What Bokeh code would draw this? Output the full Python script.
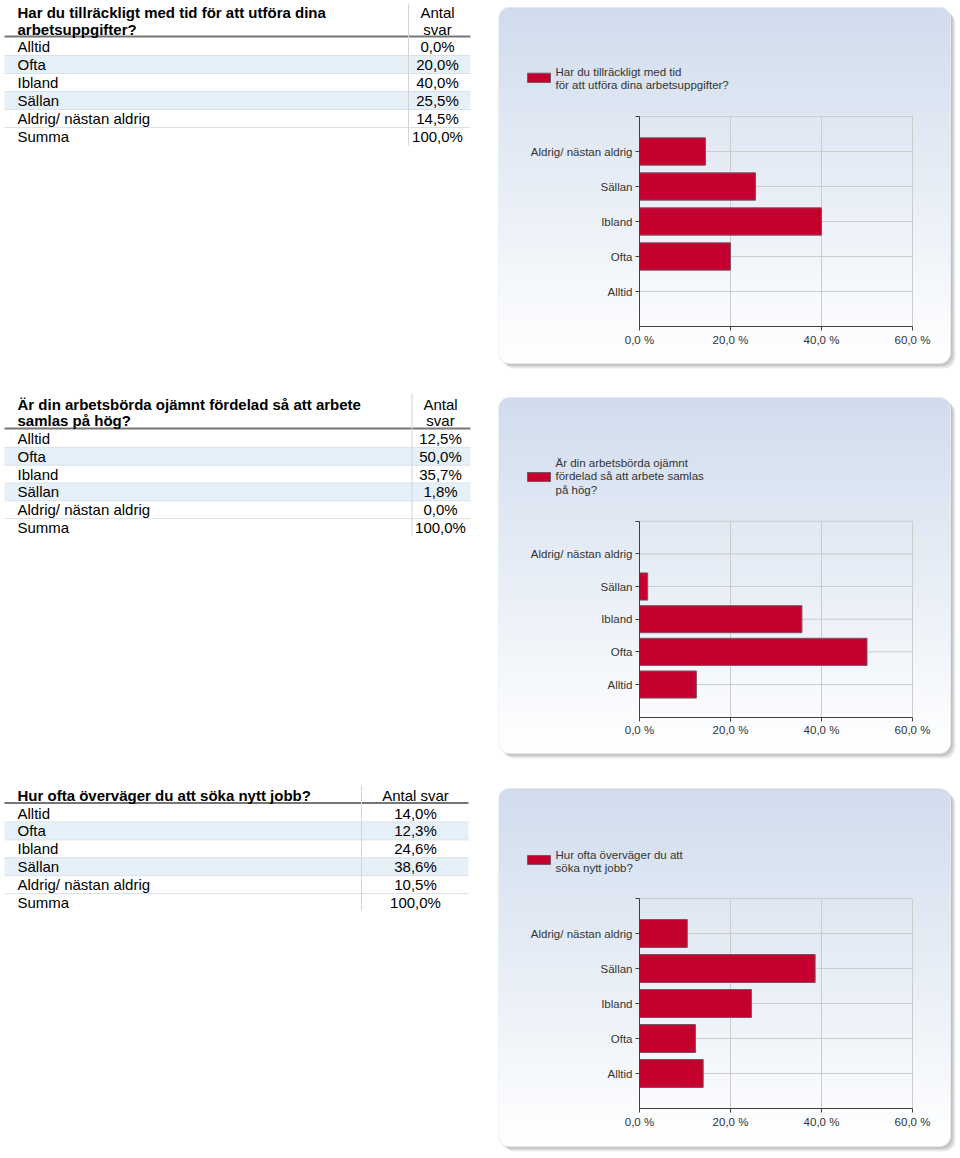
import math
from bokeh.plotting import figure
from bokeh.layouts import row, column
from bokeh.models import Range1d, FixedTicker
from bokeh.core.properties import value
from bokeh.embed import file_html
from bokeh.resources import INLINE

# ---------------- data ----------------
categories = ["Alltid", "Ofta", "Ibland", "Sällan", "Aldrig/ nästan aldrig"]
sum_label = "Summa"

q1_title = ["Har du tillräckligt med tid för att utföra dina", "arbetsuppgifter?"]
q1_legend = ["Har du tillräckligt med tid", "för att utföra dina arbetsuppgifter?"]
q1_header = ["Antal", "svar"]
q1_values = [0.0, 20.0, 40.0, 25.5, 14.5]

q2_title = ["Är din arbetsbörda ojämnt fördelad så att arbete", "samlas på hög?"]
q2_legend = ["Är din arbetsbörda ojämnt", "fördelad så att arbete samlas", "på hög?"]
q2_header = ["Antal", "svar"]
q2_values = [12.5, 50.0, 35.7, 1.8, 0.0]

q3_title = ["Hur ofta överväger du att söka nytt jobb?"]
q3_legend = ["Hur ofta överväger du att", "söka nytt jobb?"]
q3_header = ["Antal svar"]
q3_values = [14.0, 12.3, 24.6, 38.6, 10.5]

x_ticks = [0, 20, 40, 60]
x_tick_labels = ["0,0 %", "20,0 %", "40,0 %", "60,0 %"]

# ---------------- style / layout ----------------
FONT = value("Liberation Sans")
BAR = "#c4002e"
BAR_LINE = "#7a5466"
LEFT_W = 498
RIGHT_W = 462
PAGE_X0 = 0
BODY_SIZE = "15px"


def fmt_pct(v):
    return f"{v:.1f}%".replace(".", ",")


def hexc(rgb):
    return "#%02x%02x%02x" % tuple(int(round(c)) for c in rgb)


def rounded_poly(x0, y0, x1, y1, r, n=10):
    xs, ys = [], []
    corners = [(x0 + r, y0 + r, math.pi, 1.5 * math.pi),
               (x1 - r, y0 + r, 1.5 * math.pi, 2 * math.pi),
               (x1 - r, y1 - r, 0.0, 0.5 * math.pi),
               (x0 + r, y1 - r, 0.5 * math.pi, math.pi)]
    for cx, cy, a0, a1 in corners:
        for i in range(n + 1):
            a = a0 + (a1 - a0) * i / n
            xs.append(cx + r * math.cos(a))
            ys.append(cy + r * math.sin(a))
    return xs, ys


def gradient_rows(x0, y0, x1, y1, r, top_rgb, bot_rgb):
    L, R, T, B, C = [], [], [], [], []
    h = y1 - y0
    y = y0
    while y < y1:
        ym = y + 0.5
        d = min(ym - y0, y1 - ym)
        inset = r - math.sqrt(max(r * r - (r - d) ** 2, 0.0)) if d < r else 0.0
        t = (ym - y0) / h
        C.append(hexc([a + (b - a) * t for a, b in zip(top_rgb, bot_rgb)]))
        L.append(x0 + inset)
        R.append(x1 - inset)
        T.append(y)
        B.append(min(y + 1.6, y1))
        y += 1
    return L, R, T, B, C


def table_fig(title, header, values, T):
    top, h = T["row_top"], T["h"]
    p = figure(width=LEFT_W, height=h, x_range=Range1d(PAGE_X0, PAGE_X0 + LEFT_W),
               y_range=Range1d(top + h, top), output_backend="svg", toolbar_location=None,
               x_axis_type=None, y_axis_type=None, outline_line_color=None,
               min_border_left=0, min_border_right=0, min_border_top=0, min_border_bottom=0,
               background_fill_color="white", border_fill_color="white")
    p.grid.visible = False
    labels = categories + [sum_label]
    vals = [fmt_pct(v) for v in values] + [fmt_pct(sum(values))]
    pitch = T["pitch"]
    centers = [T["row0"] + i * pitch for i in range(len(labels))]
    # shaded rows
    sh = [c for i, c in enumerate(centers) if i % 2 == 1 and i < len(categories)]
    p.quad(left=T["left"], right=T["right"], top=[c - pitch / 2 for c in sh],
           bottom=[c + pitch / 2 for c in sh], fill_color="#e6f0f9", line_color=None)
    # row separators
    sep = [c + pitch / 2 for c in centers[:-1]]
    p.segment(x0=T["left"], x1=T["right"], y0=sep, y1=sep, line_color="#d9e1ea", line_width=1)
    # header underline
    p.segment(x0=[T["left"]], x1=[T["right"]], y0=[T["uline"]], y1=[T["uline"]],
              line_color="#767676", line_width=1.8)
    # vertical separator
    p.segment(x0=[T["vsep"]], x1=[T["vsep"]], y0=[T["vtop"]], y1=[T["vbot"]],
              line_color="#d4d4d4", line_width=1)
    # header texts
    p.text(x=[17] * len(title), y=T["head_y"][:len(title)], text=title, text_font=FONT,
           text_font_style="bold", text_font_size=BODY_SIZE, text_color="#000000",
           text_baseline="middle", text_align="left")
    p.text(x=[T["val_x"]] * len(header), y=T["head_y"][:len(header)], text=header,
           text_font=FONT, text_font_size=BODY_SIZE, text_color="#000000",
           text_baseline="middle", text_align="center")
    # body
    p.text(x=[17] * len(labels), y=centers, text=labels, text_font=FONT,
           text_font_size=BODY_SIZE, text_color="#000000", text_baseline="middle",
           text_align="left")
    p.text(x=[T["val_x"]] * len(vals), y=centers, text=vals, text_font=FONT,
           text_font_size=BODY_SIZE, text_color="#000000", text_baseline="middle",
           text_align="center")
    return p


def chart_fig(values, legend, C):
    top, h = C["row_top"], C["h"]
    bot = top + h
    x_left, x_right = PAGE_X0 + LEFT_W, PAGE_X0 + LEFT_W + RIGHT_W
    k = (C["x60"] - C["x0"]) / 60.0
    s = C["slot"]
    xr = Range1d((x_left - C["x0"]) / k, (x_right - C["x0"]) / k)
    yr = Range1d((C["y0"] - bot) / s, (C["y0"] - top) / s)
    p = figure(width=RIGHT_W, height=h, x_range=xr, y_range=yr, output_backend="svg",
               toolbar_location=None, outline_line_color=None,
               min_border_left=0, min_border_right=0, min_border_top=0, min_border_bottom=0,
               background_fill_color="white", border_fill_color="white")
    p.extra_x_ranges = {"px": Range1d(x_left, x_right)}
    p.extra_y_ranges = {"px": Range1d(bot, top)}
    p.grid.visible = False
    px = dict(x_range_name="px", y_range_name="px")

    # panel shadow + gradient
    x0, y0, x1, y1 = C["panel"]
    r = 11
    for off, col in [(5, "#ececec"), (3.5, "#d6d6d6"), (2, "#c2c2c2")]:
        xs, ys = rounded_poly(x0 + off, y0 + off, x1 + off, y1 + off, r)
        p.patch(xs, ys, fill_color=col, line_color=None, **px)
    gl, gr, gt, gb, gc = gradient_rows(x0, y0, x1, y1, r, (208, 220, 237), (255, 255, 255))
    p.quad(left=gl, right=gr, top=gt, bottom=gb, fill_color=gc, line_color=None, **px)
    xs, ys = rounded_poly(x0, y0, x1, y1, r)
    p.patch(xs, ys, fill_alpha=0, line_color="#e4e9ef", line_width=1, **px)

    # legend
    lt, lb = C["leg_rect"]
    p.quad(left=[527], right=[550], top=[lt], bottom=[lb], fill_color=BAR,
           line_color=BAR_LINE, line_width=1, **px)
    p.text(x=[555] * len(legend), y=C["leg_y"][:len(legend)], text=legend, text_font=FONT,
           text_font_size="11.5px", text_color="#333333", text_baseline="middle",
           text_align="left", **px)

    # grid
    ypos = list(range(1, len(categories) + 1))
    ytop = len(categories) + 1
    gy = ypos + [ytop]
    p.segment(x0=[x_ticks[0]] * len(gy), x1=[x_ticks[-1]] * len(gy), y0=gy, y1=gy,
              line_color="#cccccc", line_width=1)
    gx = x_ticks[1:]
    p.segment(x0=gx, x1=gx, y0=[0] * len(gx), y1=[ytop] * len(gx),
              line_color="#cccccc", line_width=1)

    # bars
    p.hbar(y=ypos, left=0, right=values, height=C["bar_h"], fill_color=BAR,
           line_color=BAR_LINE, line_width=1)

    # axes
    p.xaxis.fixed_location = 0
    p.yaxis.fixed_location = 0
    p.xaxis.bounds = (x_ticks[0], x_ticks[-1])
    p.yaxis.bounds = (0, ytop)
    p.xaxis.ticker = FixedTicker(ticks=x_ticks)
    p.xaxis.major_label_overrides = {t: l for t, l in zip(x_ticks, x_tick_labels)}
    p.yaxis.ticker = FixedTicker(ticks=gy)
    ov = {i + 1: c for i, c in enumerate(categories)}
    ov[ytop] = ""
    p.yaxis.major_label_overrides = ov
    for ax in (p.xaxis, p.yaxis):
        ax.axis_line_color = "#404040"
        ax.major_tick_line_color = "#404040"
        ax.minor_tick_line_color = None
        ax.major_tick_out = 4
        ax.major_tick_in = 0
        ax.major_label_text_font = "Liberation Sans"
        ax.major_label_text_font_size = "11.5px"
        ax.major_label_text_color = "#333333"
        ax.major_label_standoff = 3
    return p


T1 = dict(row_top=0, h=390, head_y=[12, 29], uline=36, row0=46, pitch=18, vsep=408,
          vtop=3, vbot=145, val_x=437, left=4, right=470)
T2 = dict(row_top=390, h=390, head_y=[404, 420], uline=428, row0=438, pitch=17.8, vsep=411.5,
          vtop=393, vbot=535, val_x=440, left=4, right=470)
T3 = dict(row_top=780, h=378, head_y=[795], uline=802.5, row0=812.5, pitch=17.9, vsep=361,
          vtop=785, vbot=910, val_x=415, left=4, right=468)

C1 = dict(row_top=0, h=390, x0=639, x60=912, y0=326, slot=35, panel=(498, 7, 950, 363),
          leg_rect=(72.7, 82), leg_y=[71, 84], bar_h=0.78)
C2 = dict(row_top=390, h=390, x0=639, x60=912, y0=716.7, slot=32.67, panel=(498, 397, 950, 753),
          leg_rect=(472, 481), leg_y=[462.7, 475.7, 489], bar_h=0.83)
C3 = dict(row_top=780, h=378, x0=639, x60=912, y0=1108, slot=35, panel=(498, 788, 950, 1146),
          leg_rect=(855, 864), leg_y=[854, 867.3], bar_h=0.8)

layout = column(
    row(table_fig(q1_title, q1_header, q1_values, T1), chart_fig(q1_values, q1_legend, C1)),
    row(table_fig(q2_title, q2_header, q2_values, T2), chart_fig(q2_values, q2_legend, C2)),
    row(table_fig(q3_title, q3_header, q3_values, T3), chart_fig(q3_values, q3_legend, C3)),
)

open("out.html", "w").write(file_html(layout, INLINE))
